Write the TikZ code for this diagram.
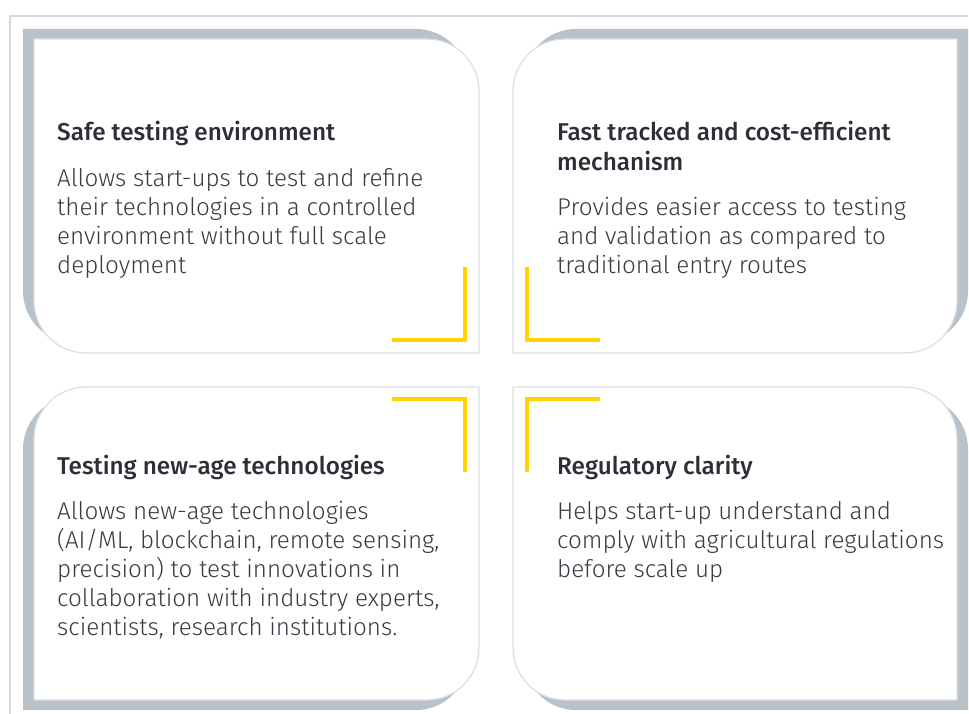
\documentclass[tikz,border=0pt]{standalone}
\usepackage{fontspec}
\setmainfont{Fira Sans}
\newfontfamily\bodyfont{Fira Sans Light}
\newfontfamily\titlefont{Fira Sans Medium}
\definecolor{frameline}{HTML}{D8D8E0}
\definecolor{shadowgray}{HTML}{B9C1C9}
\definecolor{cardline}{HTML}{DDDEE4}
\definecolor{eyyellow}{HTML}{FFD400}
\definecolor{titlecol}{HTML}{2E2E38}
\definecolor{bodycol}{HTML}{3A3A44}
\newcommand\shapeA[4]{(#1,#2) -- ({#3-52},#2) arc[start angle=270,end angle=360,radius=52] -- (#3,#4) -- ({#1+52},#4) arc[start angle=90,end angle=180,radius=52] -- cycle}
\newcommand\shapeB[4]{(#1,{#2+52}) arc[start angle=180,end angle=270,radius=52] -- (#3,#2) -- (#3,{#4-52}) arc[start angle=0,end angle=90,radius=52] -- (#1,#4) -- cycle}
\tikzset{
  shadowfill/.style={fill=shadowgray, draw=none},
  cardfill/.style={fill=white, draw=cardline, line width=1.2pt},
  bracket/.style={draw=eyyellow, line width=4pt},
  titletext/.style={anchor=base west, inner sep=0pt, align=left, text=titlecol, font=\titlefont\fontsize{24.3}{30}\selectfont},
  bodytext/.style={anchor=base west, inner sep=0pt, align=left, text=bodycol, font=\bodyfont\fontsize{24.2}{29}\selectfont},
}
\begin{document}
\begin{tikzpicture}[x=1pt, y=-1pt]
\useasboundingbox (0,0) rectangle (969,714);
\clip (0,0) rectangle (969,714);
\fill[white] (0,0) rectangle (969,714);
% outer frame
\draw[frameline, line width=1.5pt] (10,730) -- (10,16) -- (968,16);
% shadows
\path[shadowfill] \shapeA{23}{29}{468}{343};
\path[shadowfill] \shapeB{524}{29}{968}{343};
\path[shadowfill] \shapeB{23}{397}{468}{710};
\path[shadowfill] \shapeA{524}{397}{968}{710};
% cards
\path[cardfill] \shapeA{34}{39}{479}{353};
\path[cardfill] \shapeB{513}{39}{957}{353};
\path[cardfill] \shapeB{34}{387}{479}{700};
\path[cardfill] \shapeA{513}{387}{957}{700};
% brackets
\coordinate (k1a) at (465,267); \coordinate (k1b) at (465,340); \coordinate (k1c) at (392,340);
\coordinate (k2a) at (527,267); \coordinate (k2b) at (527,340); \coordinate (k2c) at (600,340);
\coordinate (k3a) at (392,399); \coordinate (k3b) at (465,399); \coordinate (k3c) at (465,472);
\coordinate (k4a) at (600,399); \coordinate (k4b) at (527,399); \coordinate (k4c) at (527,472);
\draw[bracket] (k1a) -- (k1b) -- (k1c);
\draw[bracket] (k2a) -- (k2b) -- (k2c);
\draw[bracket] (k3a) -- (k3b) -- (k3c);
\draw[bracket] (k4a) -- (k4b) -- (k4c);
% texts (base anchor = baseline of the last line)
\node[titletext] (t1) at (57,141) {Safe testing environment};
\node[bodytext] (b1) at (57,273) {Allows start-ups to test and refine\\their technologies in a controlled\\environment without full scale\\deployment};
\node[titletext] (t2) at (557,171) {Fast tracked and cost-efficient\\mechanism};
\node[bodytext] (b2) at (557,273) {Provides easier access to testing\\and validation as compared to\\traditional entry routes};
\node[titletext] (t3) at (57,474) {Testing new-age technologies};
\node[bodytext] (b3) at (57,635) {Allows new-age technologies\\(AI/ML, blockchain, remote sensing,\\precision) to test innovations in\\collaboration with industry experts,\\scientists, research institutions.};
\node[titletext] (t4) at (557,474) {Regulatory clarity};
\node[bodytext] (b4) at (557,577) {Helps start-up understand and\\comply with agricultural regulations\\before scale up};
\end{tikzpicture}
\end{document}
